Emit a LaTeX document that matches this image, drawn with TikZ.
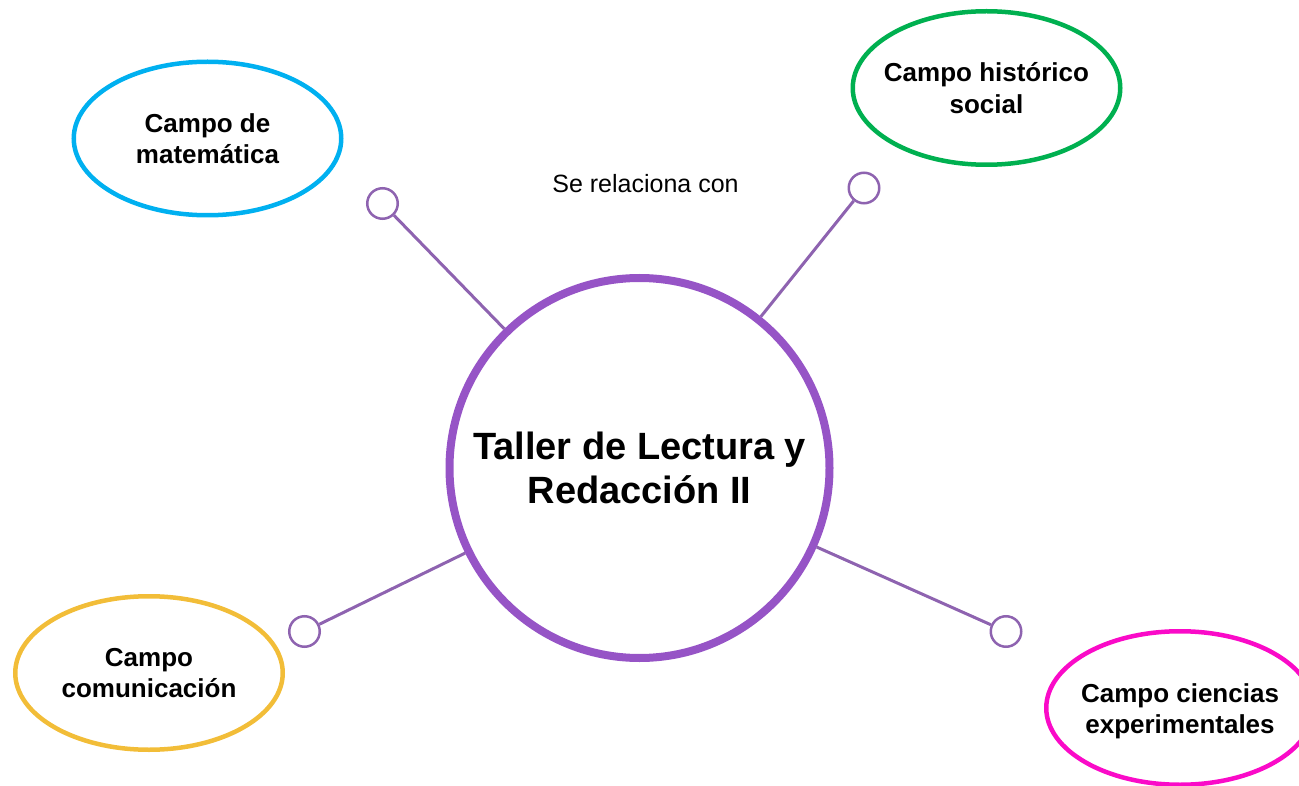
\documentclass[tikz,border=0pt]{standalone}
\usepackage{fontspec}
\setmainfont{Liberation Sans}
\usetikzlibrary{shapes.geometric}
\definecolor{cmat}{RGB}{0,176,240}
\definecolor{chis}{RGB}{0,176,80}
\definecolor{ccom}{RGB}{242,189,56}
\definecolor{ccie}{RGB}{250,10,200}
\definecolor{cmain}{RGB}{150,84,198}
\definecolor{clink}{RGB}{142,99,176}
\tikzset{
  campo/.style={ellipse, draw, line width=4.5pt, minimum width=267.5pt, minimum height=153.5pt, inner sep=0pt},
  campotext/.style={align=center, inner sep=0pt, font=\fontsize{26}{31.2}\selectfont\bfseries},
  knob/.style={circle, draw=clink, line width=2.5pt, minimum size=30.5pt, inner sep=0pt},
  link/.style={draw=clink, line width=3pt},
  hub/.style={circle, draw=cmain, line width=8pt, minimum size=380pt, inner sep=0pt, align=center,
    font=\fontsize{38}{43.7}\selectfont\bfseries}
}
\begin{document}
\begin{tikzpicture}[x=1pt,y=-1pt]
\useasboundingbox (0,0) rectangle (1299,786);
\node[hub] (main) at (639.5,468) {Taller de Lectura y\\Redacción II};

\node[campo, draw=cmat] (mat) at (207.5,138.5) {};
\node[campotext] (matt) at (mat.center) {Campo de\\matemática};
\node[campo, draw=chis] (his) at (986.5,88) {};
\node[campotext] (hist) at (his.center) {Campo histórico\\social};
\node[campo, draw=ccom] (com) at (149,673) {};
\node[campotext] (comt) at (com.center) {Campo\\comunicación};
\node[campo, draw=ccie] (cie) at (1180,708) {};
\node[campotext] (ciet) at ([yshift=-3pt]cie.center) {Campo ciencias\\experimentales};

\node[knob] (k1) at (382.5,203.5) {};
\node[knob] (k2) at (864,188) {};
\node[knob] (k3) at (304.5,631.5) {};
\node[knob] (k4) at (1006,631.5) {};

\draw[link] (k1) -- (main);
\draw[link] (k2) -- (main);
\draw[link] (k3) -- (main);
\draw[link] (k4) -- (main);

\node[font=\fontsize{25}{30}\selectfont, inner sep=0pt, anchor=base] (rel) at (645.5,193) {Se relaciona con};
\end{tikzpicture}
\end{document}
